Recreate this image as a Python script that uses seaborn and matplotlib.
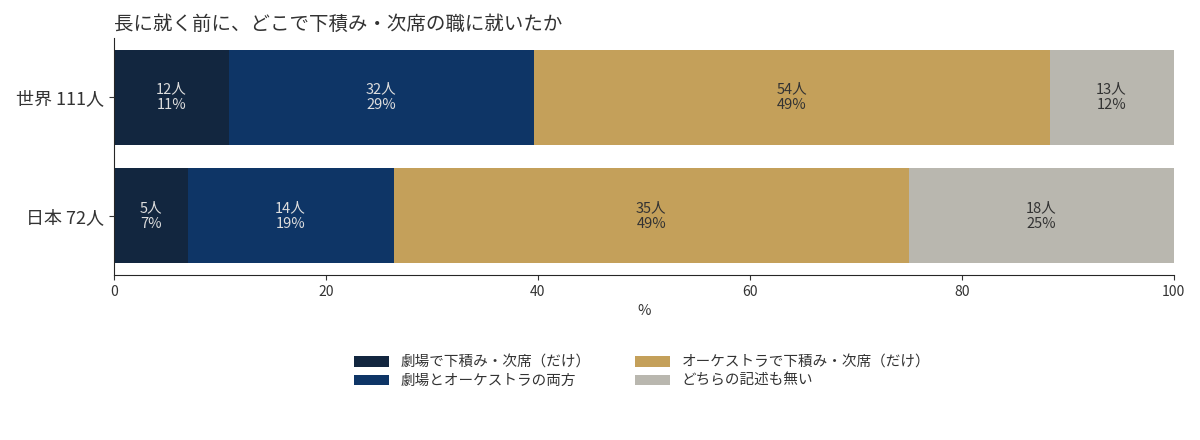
import numpy as np
import pandas as pd
import matplotlib.pyplot as plt
import seaborn as sns

sns.set_style("ticks")
plt.rcParams['font.family'] = ['Noto Sans CJK JP', 'DejaVu Sans']

# data
groups = ['世界', '日本']
series = ['劇場で下積み・次席（だけ）', '劇場とオーケストラの両方',
          'オーケストラで下積み・次席（だけ）', 'どちらの記述も無い']
counts = {
    '世界': [12, 32, 54, 13],
    '日本': [5, 14, 35, 18],
}
colors = ['#12263f', '#0e3566', '#c4a05a', '#b9b7af']
text_colors = ['#dddddd', '#dddddd', '#333333', '#333333']

totals = {g: sum(counts[g]) for g in groups}
labels = [f'{g} {totals[g]}人' for g in groups]

rows = []
for g, lab in zip(groups, labels):
    pct = np.array(counts[g]) / totals[g] * 100
    cum = np.cumsum(pct)
    for i, s in enumerate(series):
        rows.append({'group': lab, 'series': s, 'n': counts[g][i],
                     'pct': pct[i], 'cum': cum[i], 'left': cum[i] - pct[i]})
df = pd.DataFrame(rows)

fig = plt.figure(figsize=(12, 4.4), dpi=100)
ax = fig.add_axes([0.095, 0.375, 0.883, 0.539])

# draw cumulative bars from the outermost segment inwards
for i in range(len(series) - 1, -1, -1):
    sub = df[df['series'] == series[i]]
    sns.barplot(data=sub, x='cum', y='group', order=labels, color=colors[i],
                orient='h', width=0.8, saturation=1, ax=ax, label=series[i],
                linewidth=0)

for _, r in df.iterrows():
    i = series.index(r['series'])
    y = labels.index(r['group'])
    ax.text(r['left'] + r['pct'] / 2, y, f"{r['n']}人\n{r['pct']:.0f}%",
            ha='center', va='center', fontsize=10.5, color=text_colors[i],
            linespacing=1.15)

ax.set_xlim(0, 100)
ax.set_ylim(1.5, -0.5)
ax.set_xlabel('%', fontsize=10.5, color='#333333')
ax.set_ylabel('')
ax.tick_params(axis='y', labelsize=13, colors='#333333')
ax.tick_params(axis='x', labelsize=10, colors='#333333')
ax.set_title('長に就く前に、どこで下積み・次席の職に就いたか', loc='left',
             fontsize=14, color='#333333')
sns.despine(ax=ax)

handles, leg_labels = ax.get_legend_handles_labels()
order = [leg_labels.index(s) for s in series]
fig.legend([handles[k] for k in order], [leg_labels[k] for k in order],
           loc='center', bbox_to_anchor=(0.535, 0.155), ncol=2,
           frameon=False, fontsize=10.5, handlelength=2.4, columnspacing=3,
           labelspacing=0.3, labelcolor='#333333')
if ax.get_legend() is not None:
    ax.get_legend().remove()

fig.savefig('out.png', dpi=100)
